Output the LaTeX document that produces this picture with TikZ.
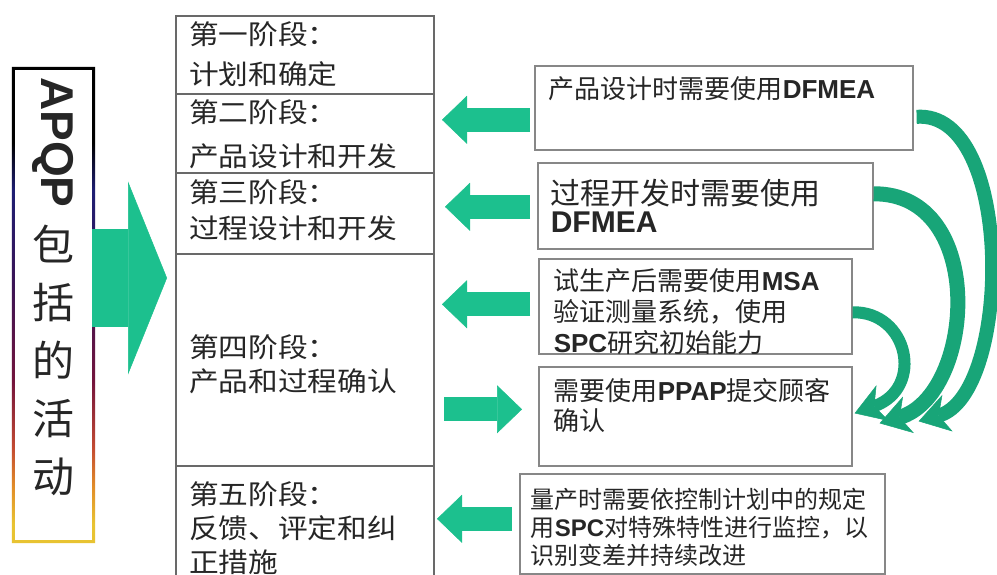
\documentclass[tikz,border=0pt]{standalone}
\usepackage{fontspec}
\usepackage{graphicx}
\setmainfont{Liberation Sans}
\newfontfamily\cjk{Noto Sans CJK SC}
\newfontfamily\cjkwide[FakeStretch=1.1]{Noto Sans CJK SC}
\newcommand{\en}[1]{{\rmfamily\bfseries #1}}
\usetikzlibrary{arrows.meta, calc}
\definecolor{arrowgreen}{RGB}{28,192,142}
\definecolor{curvegreen}{RGB}{24,165,120}
\definecolor{stagegray}{RGB}{105,105,105}
\definecolor{boxgray}{RGB}{135,135,135}
\definecolor{edgeyellow}{RGB}{232,195,50}
\definecolor{edgeorange}{RGB}{225,140,40}
\definecolor{edgered}{RGB}{195,75,50}
\definecolor{edgemaroon}{RGB}{115,20,60}
\definecolor{edgepurple}{RGB}{60,20,85}
\definecolor{edgenavy}{RGB}{30,30,115}
\pgfdeclareverticalshading{apqpedge}{100bp}{color(0bp)=(edgeyellow); color(27bp)=(edgeyellow); color(31bp)=(edgeorange); color(35bp)=(edgered); color(42bp)=(edgemaroon); color(52bp)=(edgepurple); color(62bp)=(edgenavy); color(67bp)=(black); color(100bp)=(black)}

\begin{document}
\begin{tikzpicture}[x=1pt, y=-1pt,
  stage/.style={draw=stagegray, line width=2pt, anchor=north west, inner xsep=13pt, inner ysep=0pt, text width=232pt, align=left, text=black!85, font=\cjkwide\fontsize{27}{36}\selectfont},
  info/.style={draw=boxgray, line width=1.6pt, anchor=north west, inner ysep=0pt, align=left, text=black!85, font=\cjk\fontsize{26}{31}\selectfont},
  flat/.style={draw=arrowgreen, line width=24pt, -{Triangle[width=48pt, length=25pt, line width=0.5pt]}},
  swing/.style={draw=curvegreen, -{Stealth[width=38pt, length=30pt, inset=9pt, line width=0.5pt]}}]
\path[use as bounding box, clip] (0,0) rectangle (997,575);
\fill[white] (0,0) rectangle (997,575);

\node[minimum width=83pt, minimum height=476pt, inner sep=0pt] (apqp) at (53.5,305) {};
\shade[shading=apqpedge, even odd rule] (apqp.north west) rectangle (apqp.south east) ($(apqp.north west)+(3,3)$) rectangle ($(apqp.south east)+(-3,-3)$);
\node[font=\cjk\fontsize{42}{58}\selectfont, text=black!85, align=center, anchor=north, inner sep=0pt] (lbl) at (53,77) {\rotatebox{-90}{\en{\fontsize{46}{46}\selectfont APQP}}\\[16pt]包\\括\\的\\活\\动};

\node[stage, text height=29pt, text depth=49pt, font=\cjkwide\fontsize{27}{40}\selectfont] (s1) at (175,15) {第一阶段：\\计划和确定};
\node[stage, text height=29pt, text depth=50pt, font=\cjkwide\fontsize{27}{44}\selectfont] (s2) at (175,93) {第二阶段：\\产品设计和开发};
\node[stage, text height=30pt, text depth=51pt] (s3) at (175,172) {第三阶段：\\过程设计和开发};
\node[stage, text height=103pt, text depth=109pt, font=\cjkwide\fontsize{27}{34}\selectfont] (s4) at (175,253) {第四阶段：\\产品和过程确认};
\node[stage, text height=38pt, text depth=89pt, font=\cjkwide\fontsize{27}{34}\selectfont] (s5) at (175,465) {第五阶段：\\反馈、评定和纠\\正措施};

\node[info, inner xsep=14pt, text width=350pt, text height=33pt, text depth=51pt] (r1) at (534,65) {产品设计时需要使用\en{DFMEA}};
\node[info, inner xsep=13pt, text width=309pt, text height=42pt, text depth=44pt, font=\cjk\fontsize{30}{28}\selectfont] (r2) at (537,162) {过程开发时需要使用\\\en{DFMEA}};
\node[info, inner xsep=15pt, text width=283pt, text height=32pt, text depth=63pt] (r3) at (538,258) {试生产后需要使用\en{MSA}\\验证测量系统，使用\\\en{SPC}研究初始能力};
\node[info, inner xsep=15pt, text width=283pt, text height=34pt, text depth=65pt, font=\cjk\fontsize{26}{30}\selectfont] (r4) at (538,366) {需要使用\en{PPAP}提交顾客\\确认};
\node[info, inner xsep=11pt, text width=343pt, text height=35pt, text depth=65pt, font=\cjk\fontsize{24}{28}\selectfont] (r5) at (519,473) {量产时需要依控制计划中的规定\\用\en{SPC}对特殊特性进行监控，以\\识别变差并持续改进};

\draw[draw=arrowgreen, line width=97pt, -{Triangle[width=193pt, length=39pt, line width=0.5pt]}] ($(apqp.east)+(-3,-27)$) -- ($(apqp.east -| s1.west)+(-8,-27)$);
\draw[flat] ($(r1.west)+(-4,12)$) -- ($(r1.west -| s2.east)+(7,12)$);
\draw[flat] ($(r2.west)+(-7,1)$) -- ($(r2.west -| s3.east)+(10,1)$);
\draw[flat] ($(r3.west)+(-8,-2)$) -- ($(r3.west -| s4.east)+(7,-2)$);
\draw[flat] ($(r4.west -| s4.east)+(9,-7)$) -- ($(r4.west)+(-16,-7)$);
\draw[flat] ($(r5.west)+(-7,-5)$) -- ($(r5.west -| s5.east)+(2,-5)$);

\draw[swing, line width=14pt] ($(r1.east)+(3,9)$) .. controls (1015,110) and (1012,395) .. ($(r4.east)+(66,5)$);
\draw[swing, line width=15pt] ($(r2.east)+(0,-12)$) .. controls (988,193) and (975,395) .. ($(r4.east)+(27,7)$);
\draw[swing, line width=12pt] ($(r3.east)+(0,6)$) .. controls (908,311) and (925,388) .. ($(r4.east)+(2,-3)$);
\end{tikzpicture}
\end{document}
